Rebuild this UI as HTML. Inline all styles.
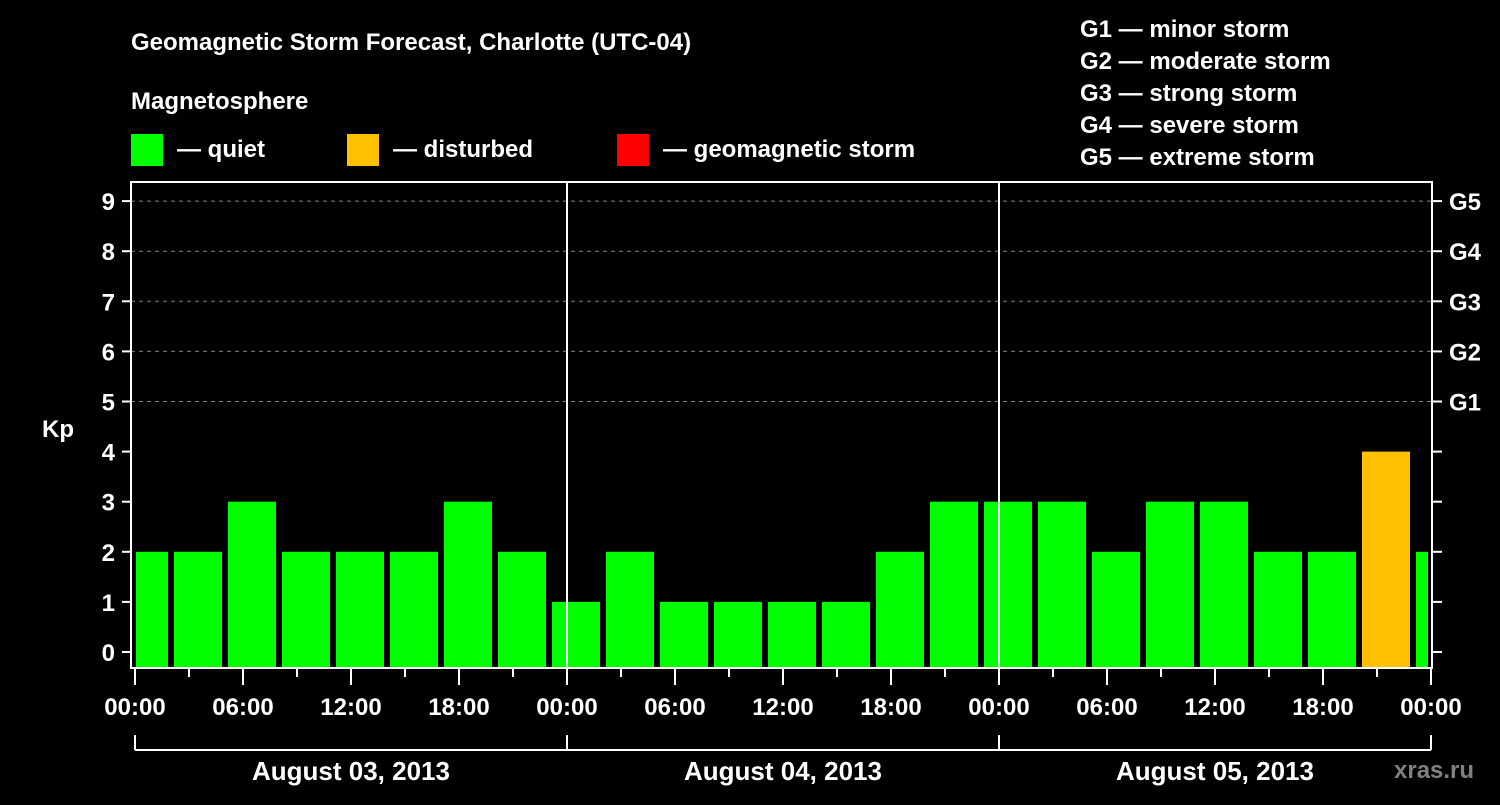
<!DOCTYPE html>
<html><head><meta charset="utf-8"><style>
body{margin:0;background:#000;width:1500px;height:800px;overflow:hidden}
svg text{font-family:"Liberation Sans",sans-serif;font-weight:bold;fill:#fff}
</style></head><body>
<svg id="c" width="1500" height="800">
<text x="131" y="50" font-size="24">Geomagnetic Storm Forecast, Charlotte (UTC-04)</text>
<text x="131" y="109" font-size="24">Magnetosphere</text>
<rect x="131" y="134" width="32" height="32" fill="#00ff00"/>
<text x="177" y="157" font-size="24">— quiet</text>
<rect x="347" y="134" width="32" height="32" fill="#ffc000"/>
<text x="393" y="157" font-size="24">— disturbed</text>
<rect x="617" y="134" width="32" height="32" fill="#ff0000"/>
<text x="663" y="157" font-size="24">— geomagnetic storm</text>
<g font-size="24">
<text x="1080" y="37">G1 — minor storm</text>
<text x="1080" y="69">G2 — moderate storm</text>
<text x="1080" y="101">G3 — strong storm</text>
<text x="1080" y="133">G4 — severe storm</text>
<text x="1080" y="165">G5 — extreme storm</text>
</g>
<text x="42" y="437" font-size="24">Kp</text>
<text x="1394" y="778" font-size="24" style="fill:#808080">xras.ru</text>
<g id="grid"></g><g id="bars"></g><g id="axes"></g>
</svg>
<script>
const kpValues=[2,2,3,2,2,2,3,2,1,2,1,1,1,1,2,3,3,3,2,3,3,2,2,4,2];
const dayLabels=["August 03, 2013","August 04, 2013","August 05, 2013"];
const yTicks=[0,1,2,3,4,5,6,7,8,9];
const gLabels=["G1","G2","G3","G4","G5"];
const hourLabels=["00:00","06:00","12:00","18:00"];
const NS="http://www.w3.org/2000/svg";
const L=131,R=1432,T=182,B=668,X0=135,DAY=432;
const yS=v=>652-50.1*v;
const xS=h=>X0+h*DAY/24;
function mk(t,a,p){const e=document.createElementNS(NS,t);for(const k in a)e.setAttribute(k,a[k]);p.appendChild(e);return e;}
const grid=document.getElementById('grid'),bars=document.getElementById('bars'),axes=document.getElementById('axes');
yTicks.forEach(v=>{
 if(v>=5){const g=mk('line',{x1:L,x2:R,y1:yS(v),y2:yS(v),stroke:'#808080','stroke-dasharray':'4,4','stroke-width':1},grid);
 
 }
 mk('line',{x1:122,x2:L,y1:yS(v),y2:yS(v),stroke:'#fff','stroke-width':2},axes);
 mk('line',{x1:R,x2:1442,y1:yS(v),y2:yS(v),stroke:'#fff','stroke-width':2},axes);
 const t=mk('text',{x:115,y:yS(v)+9,'font-size':24,'text-anchor':'end'},axes);t.textContent=v;
 
 
});
gLabels.forEach((g,i)=>{const t=mk('text',{x:1449,y:yS(5+i)+9,'font-size':24},axes);t.textContent=g;
 
 });
kpValues.forEach((v,i)=>{
 let x1=Math.max(xS(i*3)-15,L+5),x2=Math.min(xS(i*3)+33,R-4);
 const r=mk('rect',{x:x1,y:yS(v),width:x2-x1,height:B-yS(v),fill:v>=5?'#ff0000':(v>=4?'#ffc000':'#00ff00')},bars);
 
 
});
const fr=mk('rect',{x:L,y:T,width:R-L,height:B-T,fill:'none',stroke:'#fff','stroke-width':2},axes);


for(let d=1;d<3;d++)mk('line',{x1:xS(24*d),x2:xS(24*d),y1:T,y2:B,stroke:'#fff','stroke-width':2},axes);
for(let h=0;h<=72;h+=3){
 const major=h%6==0;
 mk('line',{x1:xS(h),x2:xS(h),y1:B,y2:B+(major?17:9),stroke:'#fff','stroke-width':2},axes);
 if(major&&(h%6==0)&&((h/6)%1==0)){const t=mk('text',{x:xS(h),y:715,'font-size':24,'text-anchor':'middle'},axes);
 t.textContent=hourLabels[(h/6)%4];
 
 }
}
mk('line',{x1:xS(0),x2:xS(72),y1:750,y2:750,stroke:'#fff','stroke-width':2},axes);
for(let d=0;d<=3;d++)mk('line',{x1:xS(24*d),x2:xS(24*d),y1:735,y2:750,stroke:'#fff','stroke-width':2},axes);
dayLabels.forEach((s,d)=>{const t=mk('text',{x:xS(24*d+12),y:780,'font-size':26,'text-anchor':'middle'},axes);t.textContent=s;
 
 });
</script>
</body></html>
